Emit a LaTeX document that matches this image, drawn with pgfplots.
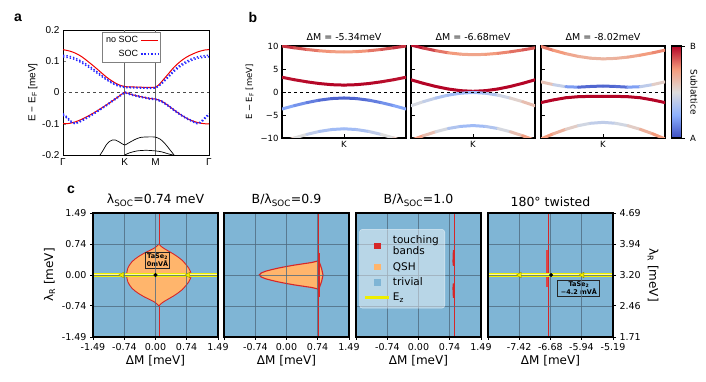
\documentclass[border=0pt]{standalone}
\usepackage{fontspec}
\setmainfont{DejaVu Sans}
\newfontfamily\arialf{Liberation Sans}
\usepackage{pgfplots}
\pgfplotsset{compat=1.18}

\definecolor{cblue}{RGB}{127,181,213}
\definecolor{corange}{RGB}{255,181,108}
\definecolor{cred}{RGB}{214,39,40}
\definecolor{gridc}{RGB}{80,108,128}
\definecolor{ezyel}{RGB}{238,238,0}
\definecolor{ezpale}{RGB}{255,255,160}
\definecolor{socred}{RGB}{240,0,0}
\definecolor{socblue}{RGB}{40,40,255}

\pgfplotsset{
  bpanel/.style={
    scale only axis, width=124pt, height=92pt,
    xmin=-1, xmax=1, ymin=-10, ymax=10,
    xtick={0}, xticklabels={K},
    ytick={-10,-5,0,5,10},
    xtick pos=bottom, ytick pos=left,
    tick align=inside, major tick length=4pt,
    tick style={black, line width=0.8pt},
    axis line style={line width=1.1pt},
    colormap={cw}{rgb255=(59,76,192) rgb255=(141,176,254) rgb255=(221,221,221) rgb255=(244,154,123) rgb255=(180,4,38)},
    point meta min=0, point meta max=1,
    tick label style={font=\fontsize{8.5}{10}\selectfont},
    ylabel style={font=\fontsize{8.5}{10}\selectfont},
    title style={font=\fontsize{9.5}{11}\selectfont, yshift=-4pt},
  },
  bband/.style={mesh, point meta=explicit, line width=3pt, line cap=round},
  cpanel/.style={
    scale only axis, width=125pt, height=124pt,
    axis background/.style={fill=cblue},
    axis on top,
    axis line style={line width=1.5pt},
    xmajorgrids, ymajorgrids,
    major grid style={draw=gridc, line width=0.5pt, opacity=0.8},
    tick align=outside, major tick length=3pt,
    tick style={black, line width=0.6pt},
    xtick pos=bottom, ytick pos=left,
    tick label style={font=\fontsize{9.5}{11}\selectfont},
    xlabel style={font=\fontsize{12}{14}\selectfont, yshift=2pt},
    ylabel style={font=\fontsize{12}{14}\selectfont},
    title style={font=\fontsize{12.5}{14}\selectfont, yshift=-3pt},
    xlabel={ΔM [meV]},
  },
  sqleg/.style={legend image code/.code={\draw[##1] plot coordinates {(0.42cm,0cm)};}},
  lineleg/.style={legend image code/.code={\draw[##1] (0cm,0cm) -- (0.84cm,0cm);}},
}

\begin{document}
\begin{tikzpicture}
\useasboundingbox (0,0) rectangle (706pt,382pt);

% ---------------- panel a
\begin{axis}[
  at={(63pt,227pt)}, anchor=south west,
  scale only axis, width=146pt, height=125pt,
  xmin=0, xmax=2.366, ymin=-0.2, ymax=0.2,
  xtick={0,1,1.5,2.366}, xticklabels={Γ,K,M,Γ},
  ytick={-0.2,-0.1,0,0.1,0.2}, yticklabels={-0.2,-0.1,0,0.1,0.2},
  ytick pos=left, xtick style={draw=none},
  tick align=inside, major tick length=3pt,
  axis line style={line width=0.8pt},
  tick label style={font=\arialf\fontsize{10}{12}\selectfont},
  ylabel={E − E\textsubscript{F} [meV]},
  ylabel style={font=\arialf\fontsize{10}{12}\selectfont, yshift=-2pt},
  legend plot pos=right,
  legend style={at={(0.267,0.984)}, anchor=north west, draw=gray, line width=0.5pt,
    font=\arialf\fontsize{9}{10}\selectfont, cells={anchor=east}, inner sep=2pt, row sep=2pt},
]
\addplot[gray!80!black, line width=0.7pt, forget plot] coordinates {(1,-0.2)(1,0.2)};
\addplot[gray!80!black, line width=0.7pt, forget plot] coordinates {(1.5,-0.2)(1.5,0.2)};
\addplot[black!70, dashed, line width=0.8pt, forget plot] coordinates {(0,0)(2.366,0)};
\addplot[black, line width=0.7pt, smooth, forget plot] coordinates {(0.6,-0.2)(0.65,-0.185)(0.7,-0.168)(0.75,-0.157)(0.8,-0.152)(0.85,-0.152)(0.9,-0.157)(0.95,-0.163)(1.0,-0.168)(1.05,-0.163)(1.15,-0.152)(1.25,-0.144)(1.4,-0.142)(1.5,-0.143)(1.58,-0.15)(1.65,-0.163)(1.72,-0.18)(1.8,-0.2)};
\addplot[black, line width=0.7pt, smooth, forget plot] coordinates {(1.0,-0.2)(1.08,-0.193)(1.2,-0.187)(1.35,-0.185)(1.5,-0.187)(1.6,-0.19)(1.7,-0.196)(1.78,-0.2)};
\addplot[socred, line width=1pt, smooth] coordinates {(0,0.137)(0.1,0.133)(0.2,0.126)(0.3,0.115)(0.4,0.1)(0.5,0.084)(0.6,0.067)(0.7,0.05)(0.8,0.036)(0.9,0.025)(1.0,0.019)(1.1,0.018)(1.25,0.017)(1.4,0.016)(1.5,0.017)(1.55,0.024)(1.6,0.035)(1.7,0.058)(1.8,0.081)(1.9,0.099)(2.0,0.113)(2.1,0.123)(2.2,0.131)(2.3,0.136)(2.366,0.137)};
\addlegendentry{no SOC}
\addplot[socred, line width=1pt, smooth, forget plot] coordinates {(0,-0.1)(0.1,-0.099)(0.2,-0.094)(0.3,-0.086)(0.4,-0.076)(0.5,-0.065)(0.6,-0.053)(0.7,-0.04)(0.8,-0.027)(0.9,-0.013)(1.0,0.0)(1.1,-0.006)(1.25,-0.013)(1.4,-0.019)(1.5,-0.021)(1.6,-0.028)(1.7,-0.041)(1.8,-0.056)(1.9,-0.07)(2.0,-0.082)(2.1,-0.091)(2.2,-0.097)(2.3,-0.1)(2.366,-0.1)};
\addplot[socblue, line width=1.4pt, dotted, smooth] coordinates {(0,0.119)(0.1,0.116)(0.2,0.11)(0.3,0.1)(0.4,0.088)(0.5,0.074)(0.6,0.059)(0.7,0.044)(0.8,0.032)(0.9,0.023)(1.0,0.018)(1.1,0.017)(1.25,0.016)(1.4,0.015)(1.5,0.016)(1.55,0.022)(1.6,0.031)(1.7,0.051)(1.8,0.072)(1.9,0.088)(2.0,0.1)(2.1,0.109)(2.2,0.115)(2.3,0.118)(2.366,0.119)};
\addlegendentry{SOC}
\addplot[socblue, line width=1.4pt, dotted, smooth, forget plot] coordinates {(0,0.114)(0.1,0.111)(0.2,0.105)(0.3,0.095)(0.4,0.083)(0.5,0.069)(0.6,0.055)(0.7,0.041)(0.8,0.029)(0.9,0.02)(1.0,0.016)(1.1,0.015)(1.25,0.014)(1.4,0.013)(1.5,0.014)(1.55,0.02)(1.6,0.028)(1.7,0.047)(1.8,0.067)(1.9,0.083)(2.0,0.095)(2.1,0.104)(2.2,0.11)(2.3,0.113)(2.366,0.114)};
\addplot[socblue, line width=1.4pt, dotted, forget plot] coordinates {(0,-0.068)(0.05,-0.076)(0.1,-0.086)(0.15,-0.095)(0.2,-0.099)(0.3,-0.089)(0.4,-0.078)(0.5,-0.066)(0.6,-0.053)(0.7,-0.04)(0.8,-0.026)(0.9,-0.012)(1.0,0.002)(1.1,-0.005)(1.25,-0.012)(1.4,-0.018)(1.5,-0.02)(1.6,-0.027)(1.7,-0.04)(1.8,-0.055)(1.9,-0.069)(2.0,-0.081)(2.1,-0.091)(2.17,-0.098)(2.22,-0.095)(2.27,-0.086)(2.32,-0.076)(2.366,-0.068)};
\addplot[socblue, line width=1.4pt, dotted, forget plot] coordinates {(0,-0.072)(0.05,-0.08)(0.1,-0.09)(0.15,-0.098)(0.2,-0.1)(0.3,-0.092)(0.4,-0.081)(0.5,-0.069)(0.6,-0.056)(0.7,-0.043)(0.8,-0.029)(0.9,-0.015)(1.0,-0.001)(1.1,-0.008)(1.25,-0.015)(1.4,-0.021)(1.5,-0.023)(1.6,-0.03)(1.7,-0.043)(1.8,-0.058)(1.9,-0.072)(2.0,-0.084)(2.1,-0.094)(2.17,-0.1)(2.22,-0.098)(2.27,-0.09)(2.32,-0.08)(2.366,-0.072)};
\end{axis}

% ---------------- panel b
\begin{axis}[bpanel, at={(282pt,244pt)}, anchor=south west,
  yticklabels={−10,−5,0,5,10},
  ylabel={E − E\textsubscript{F} [meV]},
  title={ΔM = -5.34meV}]
\addplot[bband] table[meta=c, row sep=\\] {x y c\\ -1 10.0 .95\\ -0.8 9.6 .9\\ -0.6 9.25 .84\\ -0.4 8.96 .78\\ -0.2 8.77 .74\\ 0 8.7 .72\\ 0.2 8.77 .74\\ 0.4 8.96 .78\\ 0.6 9.25 .84\\ 0.8 9.6 .9\\ 1 10.0 .95\\};
\addplot[bband] table[meta=c, row sep=\\] {x y c\\ -1 3.2 .98\\ -0.8 2.67 .98\\ -0.6 2.21 .99\\ -0.4 1.84 1\\ -0.2 1.59 1\\ 0 1.5 1\\ 0.2 1.59 1\\ 0.4 1.84 1\\ 0.6 2.21 .99\\ 0.8 2.67 .98\\ 1 3.2 .98\\};
\addplot[bband] table[meta=c, row sep=\\] {x y c\\ -1 -3.7 .25\\ -0.8 -2.96 .2\\ -0.6 -2.31 .15\\ -0.4 -1.78 .1\\ -0.2 -1.43 .06\\ 0 -1.3 .05\\ 0.2 -1.43 .06\\ 0.4 -1.78 .1\\ 0.6 -2.31 .15\\ 0.8 -2.96 .2\\ 1 -3.7 .25\\};
\addplot[bband] table[meta=c, row sep=\\] {x y c\\ -1 -10.9 .6\\ -0.8 -10.0 .55\\ -0.6 -9.22 .45\\ -0.4 -8.58 .36\\ -0.2 -8.16 .32\\ 0 -8.0 .3\\ 0.2 -8.16 .32\\ 0.4 -8.58 .36\\ 0.6 -9.22 .45\\ 0.8 -10.0 .55\\ 1 -10.9 .6\\};
\addplot[black, dashed, line width=0.9pt] coordinates {(-1,0)(1,0)};
\end{axis}

\begin{axis}[bpanel, at={(411pt,244pt)}, anchor=south west,
  yticklabels={}, title={ΔM = -6.68meV}]
\addplot[bband] table[meta=c, row sep=\\] {x y c\\ -1 10.2 1\\ -0.8 9.55 .95\\ -0.6 8.98 .85\\ -0.4 8.52 .77\\ -0.2 8.22 .72\\ 0 8.1 .7\\ 0.2 8.18 .72\\ 0.4 8.4 .76\\ 0.6 8.73 .8\\ 0.8 9.14 .84\\ 1 9.6 .88\\};
\addplot[bband] table[meta=c, row sep=\\] {x y c\\ -1 2.65 1\\ -0.8 1.88 1\\ -0.6 1.2 1\\ -0.4 0.65 1\\ -0.2 0.29 1\\ 0 0.15 1\\ 0.2 0.29 1\\ 0.4 0.65 1\\ 0.6 1.2 1\\ 0.8 1.88 1\\ 1 2.65 1\\};
\addplot[bband] table[meta=c, row sep=\\] {x y c\\ -1 -3.0 .5\\ -0.8 -2.1 .45\\ -0.6 -1.32 .38\\ -0.4 -0.68 .32\\ -0.2 -0.26 .3\\ 0 -0.1 .3\\ 0.2 -0.26 .32\\ 0.4 -0.68 .4\\ 0.6 -1.32 .5\\ 0.8 -2.1 .58\\ 1 -3.0 .65\\};
\addplot[bband] table[meta=c, row sep=\\] {x y c\\ -1 -10.5 .78\\ -0.8 -9.51 .68\\ -0.6 -8.64 .55\\ -0.4 -7.94 .4\\ -0.2 -7.48 .32\\ 0 -7.3 .3\\ 0.2 -7.48 .32\\ 0.4 -7.94 .4\\ 0.6 -8.64 .55\\ 0.8 -9.51 .68\\ 1 -10.5 .78\\};
\addplot[black, dashed, line width=0.9pt] coordinates {(-1,0)(1,0)};
\end{axis}

\begin{axis}[bpanel, at={(541pt,244pt)}, anchor=south west,
  yticklabels={}, title={ΔM = -8.02meV},
  colorbar,
  colorbar style={at={(parent axis.north east)}, anchor=north west, xshift=-2pt,
    scale only axis, width=10pt, height=92pt,
    ytick={0,1}, yticklabels={A,B}, ytick pos=right, yticklabel pos=right,
    tick align=outside, major tick length=3pt, tick style={black, line width=0.7pt},
    axis line style={line width=1.1pt},
    yticklabel style={font=\fontsize{8.5}{10}\selectfont, xshift=2pt}}]
\addplot[bband] table[meta=c, row sep=\\] {x y c\\ -1 9.9 .82\\ -0.8 9.06 .78\\ -0.6 8.33 .72\\ -0.4 7.74 .68\\ -0.2 7.35 .66\\ 0 7.2 .65\\ 0.2 7.3 .66\\ 0.4 7.58 .68\\ 0.6 8.0 .72\\ 0.8 8.51 .76\\ 1 9.1 .8\\};
\addplot[bband] table[meta=c, row sep=\\] {x y c\\ -1 2.2 .65\\ -0.8 1.6 .55\\ -0.6 1.15 .3\\ -0.4 1.05 .1\\ -0.2 1.2 .05\\ 0 1.3 .08\\ 0.2 1.2 .05\\ 0.4 1.05 .12\\ 0.6 1.15 .3\\ 0.8 1.6 .5\\ 1 2.2 .62\\};
\addplot[bband] table[meta=c, row sep=\\] {x y c\\ -1 -2.3 1\\ -0.8 -1.72 1\\ -0.6 -1.25 1\\ -0.4 -1.02 1\\ -0.2 -0.95 1\\ 0 -0.98 1\\ 0.2 -0.95 1\\ 0.4 -1.02 1\\ 0.6 -1.25 1\\ 0.8 -1.72 1\\ 1 -2.3 1\\};
\addplot[bband] table[meta=c, row sep=\\] {x y c\\ -1 -10.2 .78\\ -0.8 -9.08 .72\\ -0.6 -8.11 .62\\ -0.4 -7.32 .5\\ -0.2 -6.8 .42\\ 0 -6.6 .4\\ 0.2 -6.8 .42\\ 0.4 -7.32 .5\\ 0.6 -8.11 .62\\ 0.8 -9.08 .72\\ 1 -10.2 .78\\};
\addplot[black, dashed, line width=0.9pt] coordinates {(-1,0)(1,0)};
\end{axis}
\node[rotate=-90, font=\fontsize{9}{10}\selectfont] at (694pt,290pt) {Sublattice};

% ---------------- panel c
\begin{axis}[cpanel, at={(93pt,45pt)}, anchor=south west,
  xmin=-1.49, xmax=1.49, ymin=-1.49, ymax=1.49,
  xtick={-1.49,-0.74,0,0.74,1.49}, xticklabels={-1.49,-0.74,0.00,0.74,1.49},
  ytick={-1.49,-0.74,0,0.74,1.49}, yticklabels={-1.49,-0.74,0.00,0.74,1.49},
  ylabel={λ\textsubscript{R} [meV]},
  title={λ\textsubscript{SOC}=0.74 meV}]
\addplot[cred, line width=0.9pt] coordinates {(0.1,-1.49)(0.1,1.49)};
\addplot[fill=corange, draw=cred, line width=0.9pt] coordinates {(-0.69,0)(-0.68,0.08)(-0.66,0.16)(-0.62,0.24)(-0.56,0.32)(-0.48,0.39)(-0.38,0.46)(-0.26,0.53)(-0.14,0.59)(-0.04,0.64)(0.03,0.69)(0.08,0.74)(0.13,0.69)(0.2,0.64)(0.3,0.58)(0.42,0.51)(0.54,0.43)(0.64,0.35)(0.72,0.26)(0.79,0.17)(0.83,0.09)(0.86,0)(0.83,-0.09)(0.79,-0.17)(0.72,-0.26)(0.64,-0.35)(0.54,-0.43)(0.42,-0.51)(0.3,-0.58)(0.2,-0.64)(0.13,-0.69)(0.08,-0.74)(0.03,-0.69)(-0.04,-0.64)(-0.14,-0.59)(-0.26,-0.53)(-0.38,-0.46)(-0.48,-0.39)(-0.56,-0.32)(-0.62,-0.24)(-0.66,-0.16)(-0.68,-0.08)} -- cycle;
\addplot[ezyel, line width=3.6pt] coordinates {(-1.49,0)(1.49,0)};
\addplot[ezpale, line width=1pt] coordinates {(-1.49,0)(1.49,0)};
\addplot[only marks, mark=triangle*, mark size=3.2pt, mark options={rotate=90, fill=ezyel, draw=olive, line width=0.3pt}] coordinates {(-0.8,0)(0.78,0)};
\addplot[only marks, mark=*, mark size=1.8pt, black] coordinates {(0,0)};
\node[draw=black!85, line width=1pt, inner sep=1.2pt, align=center, font=\bfseries\fontsize{6.5}{7}\selectfont] at (axis cs:0.05,0.35) {TaSe\textsubscript{2}\\0mVÅ};
\end{axis}

\begin{axis}[cpanel, at={(224pt,45pt)}, anchor=south west,
  xmin=-1.49, xmax=1.49, ymin=-1.49, ymax=1.49,
  xtick={-1.49,-0.74,0,0.74,1.49}, xticklabels={,-0.74,0.00,0.74,1.49},
  ytick={-1.49,-0.74,0,0.74,1.49}, yticklabels={}, ytick style={draw=none},
  title={B/λ\textsubscript{SOC}=0.9}]
\addplot[fill=corange, draw=cred, line width=1.1pt] coordinates {(-0.65,0)(-0.6,0.05)(-0.5,0.09)(-0.35,0.13)(-0.2,0.165)(0,0.205)(0.2,0.24)(0.4,0.27)(0.6,0.3)(0.72,0.33)(0.77,0.35)(0.8,0.26)(0.84,0.14)(0.87,0)(0.84,-0.14)(0.8,-0.26)(0.77,-0.35)(0.72,-0.33)(0.6,-0.3)(0.4,-0.27)(0.2,-0.24)(0,-0.205)(-0.2,-0.165)(-0.35,-0.13)(-0.5,-0.09)(-0.6,-0.05)} -- cycle;
\addplot[cred, line width=0.9pt] coordinates {(0.77,-1.49)(0.77,1.49)};
\addplot[cred, line width=2pt] coordinates {(0.77,-0.52)(0.77,0.52)};
\end{axis}

\begin{axis}[cpanel, at={(356pt,45pt)}, anchor=south west,
  xmin=-1.49, xmax=1.49, ymin=-1.49, ymax=1.49,
  xtick={-1.49,-0.74,0,0.74,1.49}, xticklabels={,-0.74,0.00,0.74,1.49},
  ytick={-1.49,-0.74,0,0.74,1.49}, yticklabels={}, ytick style={draw=none},
  title={B/λ\textsubscript{SOC}=1.0},
  legend style={at={(0.026,0.87)}, anchor=north west, fill=white, fill opacity=0.45,
    draw=white, draw opacity=0.6, text opacity=1, rounded corners=3pt,
    font=\fontsize{10.5}{11.5}\selectfont, cells={anchor=west, align=left},
    row sep=2pt, inner sep=4pt}]
\addlegendimage{only marks, mark=square*, mark size=2.7pt, cred, fill opacity=1, draw opacity=1, sqleg}
\addlegendentry{touching\\bands}
\addlegendimage{only marks, mark=square*, mark size=2.7pt, corange, fill opacity=1, draw opacity=1, sqleg}
\addlegendentry{QSH}
\addlegendimage{only marks, mark=square*, mark size=2.7pt, cblue, fill opacity=1, draw opacity=1, sqleg}
\addlegendentry{trivial}
\addlegendimage{ezyel, line width=3.6pt, draw opacity=1, lineleg}
\addlegendentry{E\textsubscript{z}}
\addplot[cred, line width=0.9pt, forget plot] coordinates {(0.85,-1.49)(0.85,1.49)};
\addplot[cred, line width=1.8pt, forget plot] coordinates {(0.84,0.22)(0.83,0.32)(0.84,0.6)};
\addplot[cred, line width=1.8pt, forget plot] coordinates {(0.84,-0.2)(0.83,-0.31)(0.84,-0.55)};
\end{axis}

\begin{axis}[cpanel, at={(488pt,45pt)}, anchor=south west,
  xmin=-8.16, xmax=-5.19, ymin=1.71, ymax=4.69,
  xtick={-8.16,-7.42,-6.68,-5.94,-5.19}, xticklabels={,-7.42,-6.68,-5.94,-5.19},
  ytick={1.71,2.46,3.20,3.94,4.69}, yticklabels={1.71,2.46,3.20,3.94,4.69},
  ytick pos=right, yticklabel pos=right,
  ylabel={λ\textsubscript{R} [meV]}, ylabel style={rotate=180},
  title={180° twisted}]
\addplot[cred!85, line width=2pt] coordinates {(-6.77,2.92)(-6.77,3.8)};
\addplot[cred, line width=0.9pt] coordinates {(-6.72,1.71)(-6.72,4.69)};
\addplot[ezyel, line width=3.6pt] coordinates {(-8.16,3.2)(-5.19,3.2)};
\addplot[ezpale, line width=1pt] coordinates {(-8.16,3.2)(-5.19,3.2)};
\addplot[only marks, mark=triangle*, mark size=3.2pt, mark options={rotate=90, fill=ezyel, draw=olive, line width=0.3pt}] coordinates {(-7.41,3.2)(-5.92,3.2)};
\addplot[only marks, mark=*, mark size=1.8pt, black] coordinates {(-6.66,3.2)};
\node[draw=black!85, line width=1pt, inner xsep=3pt, inner ysep=1.2pt, align=center, font=\bfseries\fontsize{6.5}{7}\selectfont] at (axis cs:-6.0,2.88) {TaSe\textsubscript{2}\\−4.2 mVÅ};
\end{axis}

% panel letters
\node[font=\arialf\bfseries\fontsize{14}{16}\selectfont] at (18pt,364pt) {a};
\node[font=\arialf\bfseries\fontsize{14}{16}\selectfont] at (253pt,364pt) {b};
\node[font=\arialf\bfseries\fontsize{14}{16}\selectfont] at (71pt,192pt) {c};
\end{tikzpicture}
\end{document}
